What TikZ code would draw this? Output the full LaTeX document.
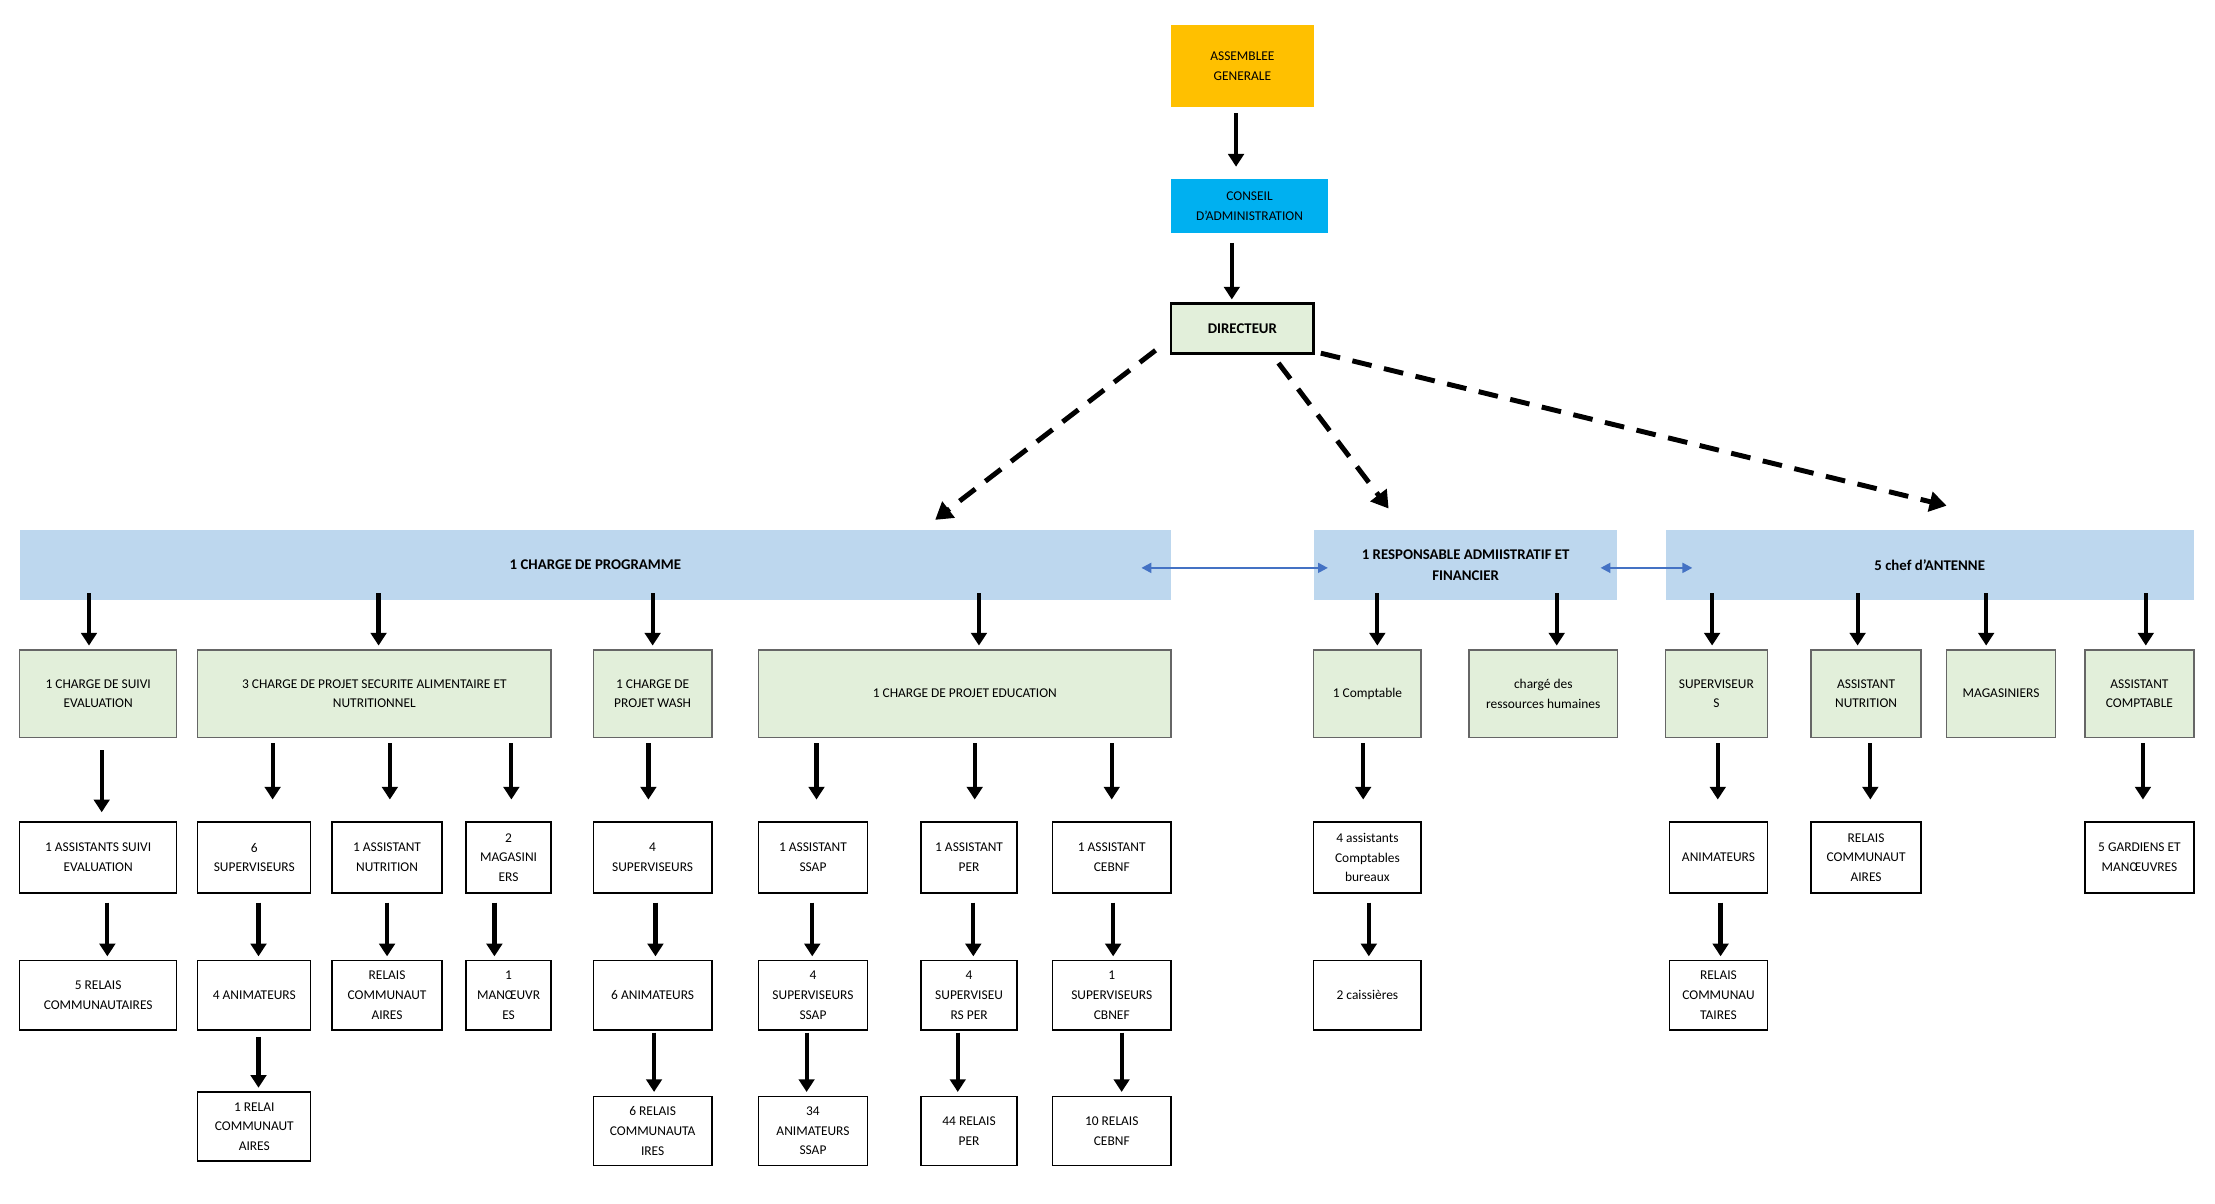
\documentclass[tikz,border=0pt]{standalone}
\usepackage{fontspec}
\setmainfont{Carlito}
\usetikzlibrary{arrows.meta}
\definecolor{agc}{HTML}{FFC000}
\definecolor{cac}{HTML}{00B0F0}
\definecolor{grn}{HTML}{E2EFDA}
\definecolor{blu}{HTML}{BDD7EE}
\definecolor{dblu}{HTML}{4472C4}
\tikzset{
 base/.style={align=center,inner sep=1pt,font=\fontsize{9.5}{14}\selectfont},
 gbox/.style={base,fill=grn,draw=gray!80!black,line width=1pt},
 wbox/.style={base,fill=white,draw=black,line width=1pt},
 bbar/.style={base,fill=blu,font=\fontsize{10.5}{15}\selectfont\bfseries},
 arr/.style={line width=3pt,-{Triangle[length=9pt,width=11pt]}},
 darr/.style={line width=3.5pt,dash pattern=on 14pt off 9pt,-{Triangle[length=12pt,width=14pt]}},
 barr/.style={line width=1.5pt,dblu,{Triangle[length=7pt,width=7pt]}-{Triangle[length=7pt,width=7pt]}},
}
\newcommand\bx[7]{\node[#2,minimum width={#5pt-#3pt},minimum height={#6pt-#4pt}] (#1) at ({(#3+#5)/2},{(#4+#6)/2}) {#7};}
\newcommand\ar[3]{\draw[arr] (#1,#2) -- (#1,#3);}
\begin{document}
\begin{tikzpicture}[x=1pt,y=-1pt]
\useasboundingbox[fill=white] (0,0) rectangle (1568,852);
\bx{ag}{base,fill=agc}{829}{18}{930}{76}{ASSEMBLEE\\GENERALE}
\bx{ca}{base,fill=cac}{829}{127}{940}{165}{CONSEIL\\D'ADMINISTRATION}
\bx{dir}{base,fill=grn,draw=black,line width=2pt,font=\fontsize{10.5}{13}\selectfont\bfseries}{829}{215}{930}{250}{DIRECTEUR}
\ar{875}{80}{118}
\ar{872}{172}{212}
\coordinate (d1) at (662,368); \coordinate (d2) at (983,360); \coordinate (d3) at (1378,358);
\draw[darr] (818,248) -- (d1);
\draw[darr] (905,257) -- (d2);
\draw[darr] (935,250) -- (d3);
\bx{cp}{bbar}{14}{375}{829}{425}{1 CHARGE DE PROGRAMME}
\bx{raf}{bbar}{930}{375}{1145}{425}{1 RESPONSABLE ADMIISTRATIF ET\\FINANCIER}
\bx{ant}{bbar}{1179}{375}{1553}{425}{5 chef d'ANTENNE}
\draw[barr] (808,402) -- (940,402);
\draw[barr] (1133,402) -- (1198,402);
% level 2
\bx{a1}{gbox}{14}{460}{125}{522}{1 CHARGE DE SUIVI\\EVALUATION}
\bx{a2}{gbox}{140}{460}{390}{522}{3 CHARGE DE PROJET SECURITE ALIMENTAIRE ET\\NUTRITIONNEL}
\bx{a3}{gbox}{420}{460}{504}{522}{1 CHARGE DE\\PROJET WASH}
\bx{a4}{gbox}{537}{460}{829}{522}{1 CHARGE DE PROJET EDUCATION}
\bx{a5}{gbox}{930}{460}{1006}{522}{1 Comptable}
\bx{a6}{gbox}{1040}{460}{1145}{522}{chargé des\\ressources humaines}
\bx{a7}{gbox}{1179}{460}{1251}{522}{SUPERVISEUR\\S}
\bx{a8}{gbox}{1282}{460}{1360}{522}{ASSISTANT\\NUTRITION}
\bx{a9}{gbox}{1378}{460}{1455}{522}{MAGASINIERS}
\bx{a10}{gbox}{1476}{460}{1553}{522}{ASSISTANT\\COMPTABLE}
\foreach \x in {63,268,462,693,975,1102,1212,1315,1406,1519} {\ar{\x}{420}{457}}
% level 3
\bx{b1}{wbox}{14}{582}{125}{632}{1 ASSISTANTS SUIVI\\EVALUATION}
\bx{b2}{wbox}{140}{582}{220}{632}{6\\SUPERVISEURS}
\bx{b3}{wbox}{235}{582}{313}{632}{1 ASSISTANT\\NUTRITION}
\bx{b4}{wbox}{330}{582}{390}{632}{2\\MAGASINI\\ERS}
\bx{b5}{wbox}{420}{582}{504}{632}{4\\SUPERVISEURS}
\bx{b6}{wbox}{537}{582}{614}{632}{1 ASSISTANT\\SSAP}
\bx{b7}{wbox}{652}{582}{720}{632}{1 ASSISTANT\\PER}
\bx{b8}{wbox}{745}{582}{829}{632}{1 ASSISTANT\\CEBNF}
\bx{b9}{wbox}{930}{582}{1006}{632}{4 assistants\\Comptables\\bureaux}
\bx{b10}{wbox}{1182}{582}{1251}{632}{ANIMATEURS}
\bx{b11}{wbox}{1282}{582}{1360}{632}{RELAIS\\COMMUNAUT\\AIRES}
\bx{b12}{wbox}{1476}{582}{1553}{632}{5 GARDIENS ET\\MANŒUVRES}
\ar{72}{531}{575}
\foreach \x in {193,276,362,459,578,690,787,965,1216,1324,1517} {\ar{\x}{526}{566}}
% level 4
\bx{c1}{wbox}{14}{680}{125}{729}{5 RELAIS\\COMMUNAUTAIRES}
\bx{c2}{wbox}{140}{680}{220}{729}{4 ANIMATEURS}
\bx{c3}{wbox}{235}{680}{313}{729}{RELAIS\\COMMUNAUT\\AIRES}
\bx{c4}{wbox}{330}{680}{390}{729}{1\\MANŒUVR\\ES}
\bx{c5}{wbox}{420}{680}{504}{729}{6 ANIMATEURS}
\bx{c6}{wbox}{537}{680}{614}{729}{4\\SUPERVISEURS\\SSAP}
\bx{c7}{wbox}{652}{680}{720}{729}{4\\SUPERVISEU\\RS PER}
\bx{c8}{wbox}{745}{680}{829}{729}{1\\SUPERVISEURS\\CBNEF}
\bx{c9}{wbox}{930}{680}{1006}{729}{2 caissières}
\bx{c10}{wbox}{1182}{680}{1251}{729}{RELAIS\\COMMUNAU\\TAIRES}
\foreach \x in {76,183,274,350,464,575,689,788,969,1218} {\ar{\x}{639}{677}}
% level 5
\bx{d5a}{wbox}{140}{773}{220}{822}{1 RELAI\\COMMUNAUT\\AIRES}
\bx{d5b}{wbox}{420}{776}{504}{825}{6 RELAIS\\COMMUNAUTA\\IRES}
\bx{d5c}{wbox}{537}{776}{614}{825}{34\\ANIMATEURS\\SSAP}
\bx{d5d}{wbox}{652}{776}{720}{825}{44 RELAIS\\PER}
\bx{d5e}{wbox}{745}{776}{829}{825}{10 RELAIS\\CEBNF}
\ar{183}{734}{770}
\foreach \x in {463,571,678,794} {\ar{\x}{731}{773}}
\end{tikzpicture}
\end{document}
